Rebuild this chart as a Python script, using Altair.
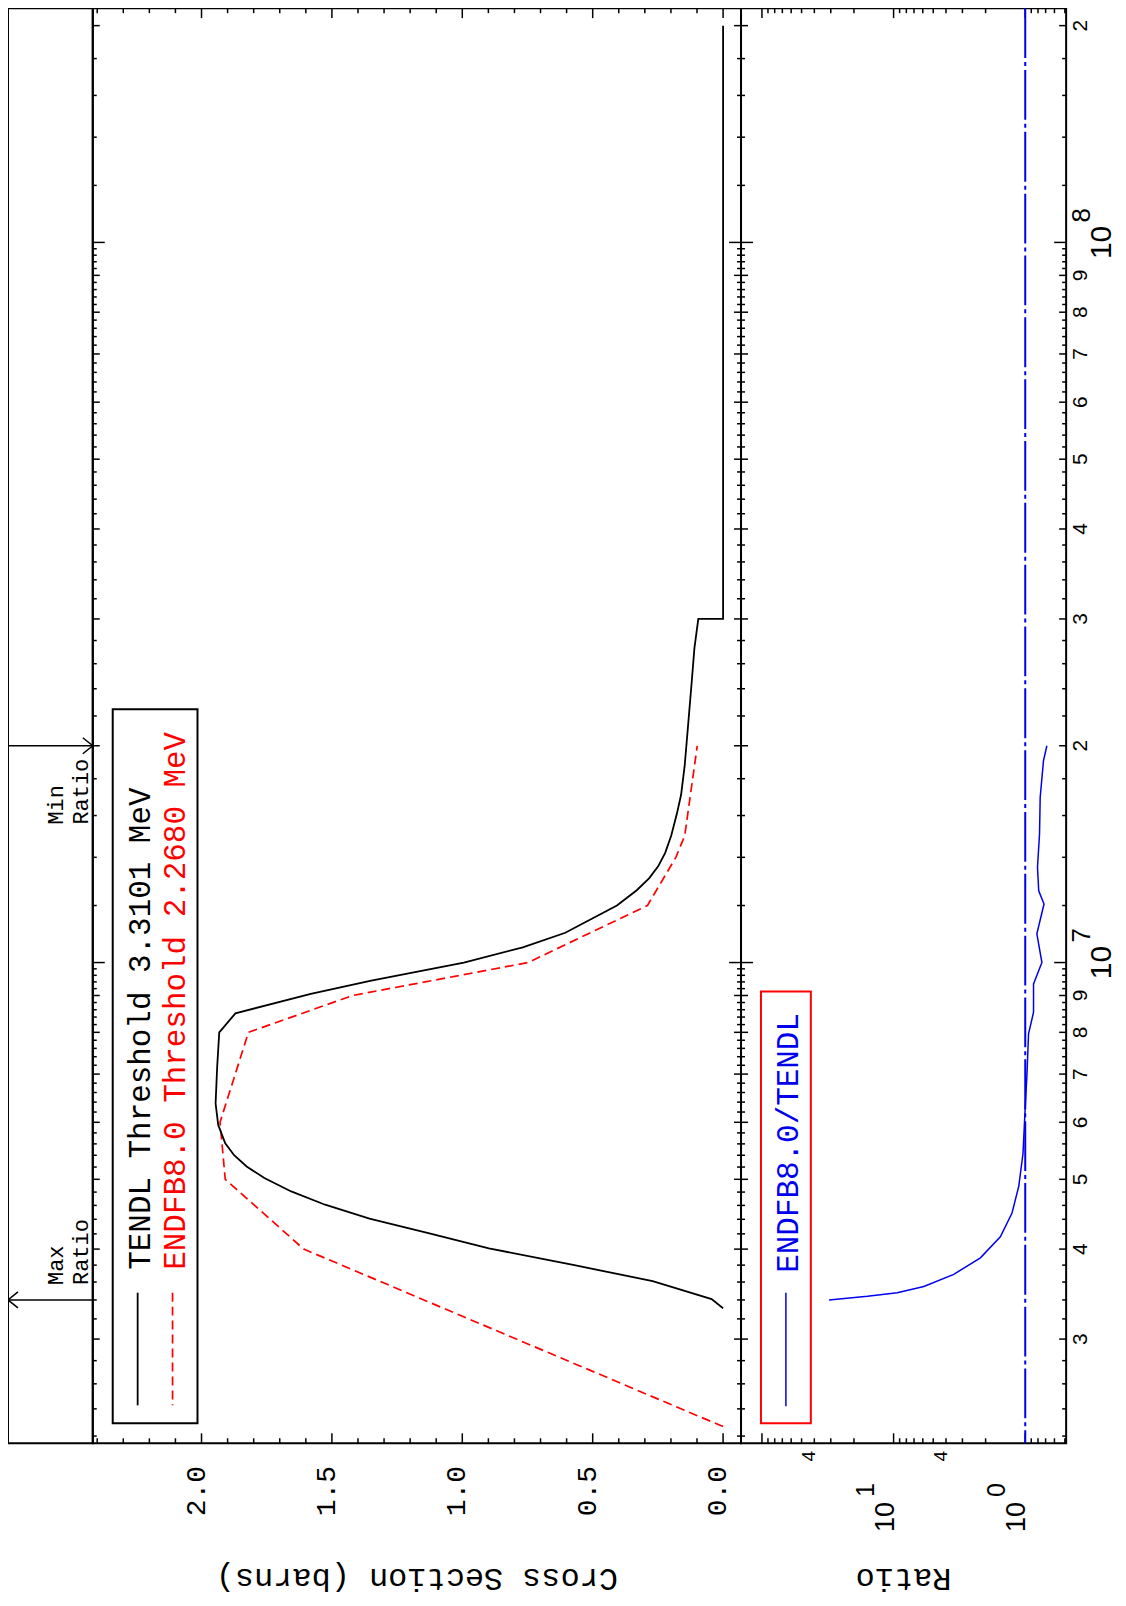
import altair as alt
import pandas as pd

# ---------------- data ----------------
tendl_energy = [3.3101e6, 3.41e6, 3.61e6, 3.80e6, 4.01e6, 4.21e6, 4.41e6, 4.61e6,
                4.81e6, 5.02e6, 5.21e6, 5.40e6, 5.61e6, 5.95e6, 6.37e6, 7.16e6,
                8.0e6, 8.5e6, 9.05e6, 9.44e6, 1.0e7, 1.05e7, 1.10e7, 1.20e7,
                1.26e7, 1.31e7, 1.36e7, 1.42e7, 1.50e7, 1.61e7, 1.71e7, 1.88e7,
                2.16e7, 2.46e7, 2.73e7, 3.0e7, 3.0e7, 2.0e8]
tendl_xs = [0.0, 0.044, 0.27, 0.57, 0.898, 1.13, 1.356, 1.526, 1.656, 1.759, 1.827,
            1.875, 1.909, 1.936, 1.946, 1.940, 1.932, 1.870, 1.581, 1.349, 0.994,
            0.768, 0.605, 0.407, 0.331, 0.283, 0.249, 0.222, 0.199, 0.177, 0.161,
            0.147, 0.133, 0.120, 0.110, 0.095, 0.0, 0.0]

endf_energy = [2.268e6, 4.0e6, 5.0e6, 6.0e6, 8.0e6, 9.0e6, 1.0e7, 1.2e7, 1.4e7, 1.5e7, 2.0e7]
endf_xs = [0.0, 1.608, 1.909, 1.929, 1.820, 1.42, 0.748, 0.290, 0.181, 0.147, 0.099]

ratio_energy = [3.40e6, 3.44e6, 3.48e6, 3.55e6, 3.69e6, 3.89e6, 4.16e6, 4.49e6, 4.89e6,
                5.43e6, 6.3e6, 7.0e6, 7.96e6, 8.53e6, 9.34e6, 1.0e7, 1.096e7, 1.206e7,
                1.258e7, 1.356e7, 1.507e7, 1.695e7, 1.906e7, 2.0e7]
ratio_vals = [30.9, 15.8, 9.38, 5.89, 3.49, 2.19, 1.546, 1.26, 1.12, 1.04, 1.0, 0.97,
              0.944, 0.865, 0.865, 0.747, 0.816, 0.72, 0.79, 0.807, 0.779, 0.77, 0.727, 0.685]

max_ratio_energy = 3.40e6
min_ratio_energy = 2.0e7

# texts
tendl_label = "TENDL Threshold 3.3101 MeV"
endf_label = "ENDFB8.0 Threshold 2.2680 MeV"
ratio_label = "ENDFB8.0/TENDL"
max_text = "Max\nRatio"
min_text = "Min\nRatio"
cs_title = "Cross Section (barns)"
ratio_title = "Ratio"

# tick labels
cs_label_vals = [0.0, 0.5, 1.0, 1.5, 2.0]
cs_label_text = ["0.0", "0.5", "1.0", "1.5", "2.0"]
energy_digit_vals = [3e6, 4e6, 5e6, 6e6, 7e6, 8e6, 9e6,
                     2e7, 3e7, 4e7, 5e7, 6e7, 7e7, 8e7, 9e7, 2e8]
energy_digit_text = ["3", "4", "5", "6", "7", "8", "9",
                     "2", "3", "4", "5", "6", "7", "8", "9", "2"]
energy_decade_vals = [1e7, 1e8]
energy_decade_exp = ["7", "8"]
ratio_decade_vals = [1.0, 10.0]
ratio_decade_exp = ["0", "1"]
ratio_four_vals = [4.0, 40.0]
ratio_four_text = ["4", "4"]

# ---------------- layout ----------------
E_DOMAIN = [2.15e6, 2.115e8]
CS_DOMAIN = [-0.0688, 2.417]
R_DOMAIN = [0.489, 144.2]
H = 1439
W_STRIP, W_MAIN, W_RATIO = 85, 650, 326
MONO = "Liberation Mono"
SANS = "Liberation Sans"
BLUE = "#0000ee"
RED = "#ff0000"

yscale = alt.Scale(type="log", domain=E_DOMAIN, nice=False)
cs_scale = alt.Scale(domain=CS_DOMAIN, reverse=True, nice=False, zero=False)
r_scale = alt.Scale(type="log", domain=R_DOMAIN, reverse=True, nice=False)


def Y(f="e"):
    return alt.Y(f"{f}:Q", scale=yscale, axis=None)


def XC(f):
    return alt.X(f"{f}:Q", scale=cs_scale, axis=None)


def XR(f):
    return alt.X(f"{f}:Q", scale=r_scale, axis=None)


one = pd.DataFrame({"a": [0]})

# tick positions, grouped by tick class
e_minor, e_mid, e_major = [], [], []
for dec in [1e6, 1e7, 1e8]:
    for k in range(5, 50):
        v = dec * k / 5.0
        if E_DOMAIN[0] <= v <= E_DOMAIN[1]:
            if k == 5:
                e_major.append(v)
            elif k % 5 == 0:
                e_mid.append(v)
            else:
                e_minor.append(v)
E_TICK_SETS = [(e_minor, 4), (e_mid, 7), (e_major, 12)]

cs_minor = [round(0.1 * k, 2) for k in range(0, 25) if k % 5 != 0]
cs_major = [round(0.1 * k, 2) for k in range(0, 25) if k % 5 == 0]
CS_TICK_SETS = [(cs_minor, 5), (cs_major, 10)]

r_minor, r_major = [], []
for dec in [0.1, 1.0, 10.0, 100.0]:
    for k in range(1, 10):
        v = dec * k
        if R_DOMAIN[0] <= v <= R_DOMAIN[1]:
            (r_major if k == 1 else r_minor).append(v)
R_TICK_SETS = [(r_minor, 5), (r_major, 10)]

TICK = dict(color="black", strokeWidth=1.5)


def energy_ticks(panel_w):
    layers = []
    for vals, ln in E_TICK_SETS:
        df = pd.DataFrame({"e": vals})
        layers.append(alt.Chart(df).mark_rule(**TICK).encode(
            y=Y(), x=alt.value(0), x2=alt.value(ln)))
        layers.append(alt.Chart(df).mark_rule(**TICK).encode(
            y=Y(), x=alt.value(panel_w - ln), x2=alt.value(panel_w)))
    return layers


def h_ticks(sets, xenc_fn, field):
    layers = []
    for vals, ln in sets:
        df = pd.DataFrame({field: vals})
        layers.append(alt.Chart(df).mark_rule(**TICK).encode(
            x=xenc_fn(field), y=alt.value(0), y2=alt.value(ln)))
        layers.append(alt.Chart(df).mark_rule(**TICK).encode(
            x=xenc_fn(field), y=alt.value(H - ln), y2=alt.value(H)))
    return layers


# ---------------- strip panel (Max / Min ratio arrows) ----------------
arrow_df = pd.DataFrame({"e": [max_ratio_energy, min_ratio_energy]})
strip_layers = [
    alt.Chart(arrow_df).mark_rule(color="black", strokeWidth=1.5).encode(
        y=Y(), x=alt.value(0), x2=alt.value(W_STRIP)),
    alt.Chart(pd.DataFrame({"e": [max_ratio_energy]})).mark_point(
        shape="M1,-0.8L0,0L1,0.8", filled=False, size=400, color="black",
        strokeWidth=1.5, opacity=1).encode(y=Y(), x=alt.value(0)),
    alt.Chart(pd.DataFrame({"e": [min_ratio_energy]})).mark_point(
        shape="M-1,-0.8L0,0L-1,0.8", filled=False, size=400, color="black",
        strokeWidth=1.5, opacity=1).encode(y=Y(), x=alt.value(W_STRIP)),
    alt.Chart(pd.DataFrame({"e": [max_ratio_energy]})).mark_text(
        text=max_text, lineBreak="\n", angle=270, align="left", baseline="alphabetic",
        dx=15, font=MONO, fontSize=22, lineHeight=25, color="black").encode(
        y=Y(), x=alt.value(55)),
    alt.Chart(pd.DataFrame({"e": [min_ratio_energy]})).mark_text(
        text=min_text, lineBreak="\n", angle=270, align="left", baseline="alphabetic",
        dx=-79, font=MONO, fontSize=22, lineHeight=25, color="black").encode(
        y=Y(), x=alt.value(55)),
]
strip = alt.layer(*strip_layers).properties(width=W_STRIP, height=H)

# ---------------- main panel ----------------
tendl_df = pd.DataFrame({"e": tendl_energy, "xs": tendl_xs, "i": list(range(len(tendl_xs)))})
endf_df = pd.DataFrame({"e": endf_energy, "xs": endf_xs, "i": list(range(len(endf_xs)))})
cs_lab_df = pd.DataFrame({"v": cs_label_vals, "t": cs_label_text})

main_layers = energy_ticks(W_MAIN) + h_ticks(CS_TICK_SETS, XC, "v") + [
    alt.Chart(endf_df).mark_line(color=RED, strokeWidth=1.7, strokeDash=[9, 5], clip=True).encode(
        x=XC("xs"), y=Y(), order="i:Q"),
    alt.Chart(tendl_df).mark_line(color="black", strokeWidth=1.8, clip=True).encode(
        x=XC("xs"), y=Y(), order="i:Q"),
    # legend
    alt.Chart(one).mark_rect(fillOpacity=0, stroke="black", strokeWidth=2).encode(
        x=alt.value(20), x2=alt.value(105), y=alt.value(703), y2=alt.value(1419)),
    alt.Chart(one).mark_rule(color="black", strokeWidth=1.8).encode(
        x=alt.value(45), y=alt.value(1288), y2=alt.value(1401)),
    alt.Chart(one).mark_rule(color=RED, strokeWidth=1.7, strokeDash=[9, 5]).encode(
        x=alt.value(80), y=alt.value(1288), y2=alt.value(1401)),
    alt.Chart(one).mark_text(text=tendl_label, angle=270, align="left", baseline="alphabetic",
                             font=MONO, fontSize=31, color="black").encode(
        x=alt.value(57), y=alt.value(1265)),
    alt.Chart(one).mark_text(text=endf_label, angle=270, align="left", baseline="alphabetic",
                             font=MONO, fontSize=31, color=RED).encode(
        x=alt.value(92), y=alt.value(1265)),
    # axis labels
    alt.Chart(cs_lab_df).mark_text(angle=270, align="center", baseline="alphabetic", dy=3,
                                   font=MONO, fontSize=28, color="black").encode(
        x=XC("v"), y=alt.value(1487), text="t:N"),
    alt.Chart(one).mark_text(text=cs_title, angle=180, align="center", baseline="alphabetic",
                             font=MONO, fontSize=32, color="black").encode(
        x=alt.value(W_MAIN / 2), y=alt.value(1565)),
]
main = alt.layer(*main_layers).properties(width=W_MAIN, height=H)

# ---------------- ratio panel ----------------
ratio_df = pd.DataFrame({"e": ratio_energy, "r": ratio_vals, "i": list(range(len(ratio_vals)))})
unity_df = pd.DataFrame({"r": [1.0]})
ed_df = pd.DataFrame({"e": energy_digit_vals, "t": energy_digit_text})
edec_df = pd.DataFrame({"e": energy_decade_vals, "t": energy_decade_exp})
rdec_df = pd.DataFrame({"r": ratio_decade_vals, "t": ratio_decade_exp})
rfour_df = pd.DataFrame({"r": ratio_four_vals, "t": ratio_four_text})

ratio_layers = energy_ticks(W_RATIO) + h_ticks(R_TICK_SETS, XR, "r") + [
    alt.Chart(unity_df).mark_rule(color=BLUE, strokeWidth=2, strokeDash=[50, 4, 4, 4]).encode(
        x=XR("r")),
    alt.Chart(ratio_df).mark_line(color=BLUE, strokeWidth=1.5, clip=True).encode(
        x=XR("r"), y=Y(), order="i:Q"),
    # legend
    alt.Chart(one).mark_rect(fillOpacity=0, stroke=RED, strokeWidth=2).encode(
        x=alt.value(20), x2=alt.value(70), y=alt.value(986), y2=alt.value(1419)),
    alt.Chart(one).mark_rule(color=BLUE, strokeWidth=1.5).encode(
        x=alt.value(45), y=alt.value(1288), y2=alt.value(1402)),
    alt.Chart(one).mark_text(text=ratio_label, angle=270, align="left", baseline="alphabetic",
                             font=MONO, fontSize=31, color=BLUE).encode(
        x=alt.value(57), y=alt.value(1268)),
    # ratio axis labels
    alt.Chart(rdec_df).mark_text(text="10", angle=270, align="center", baseline="alphabetic",
                                 font=SANS, fontSize=27, color="black").encode(
        x=XR("r"), y=alt.value(1513)),
    alt.Chart(rdec_df).mark_text(angle=270, align="left", baseline="alphabetic", dy=-20,
                                 font=SANS, fontSize=25, color="black").encode(
        x=XR("r"), y=alt.value(1493), text="t:N"),
    alt.Chart(rfour_df).mark_text(angle=270, align="center", baseline="alphabetic", dy=1,
                                  font=SANS, fontSize=19, color="black").encode(
        x=XR("r"), y=alt.value(1452), text="t:N"),
    alt.Chart(one).mark_text(text=ratio_title, angle=180, align="center", baseline="alphabetic",
                             font=MONO, fontSize=32, color="black").encode(
        x=alt.value(W_RATIO / 2), y=alt.value(1565)),
    # energy axis labels (right side)
    alt.Chart(ed_df).mark_text(angle=270, align="center", baseline="alphabetic",
                               font=SANS, fontSize=21, color="black").encode(
        y=Y(), x=alt.value(347), text="t:N"),
    alt.Chart(edec_df).mark_text(text="10", angle=270, align="center", baseline="alphabetic",
                                 font=SANS, fontSize=30, color="black").encode(
        y=Y(), x=alt.value(371)),
    alt.Chart(edec_df).mark_text(angle=270, align="left", baseline="alphabetic", dx=20,
                                 font=SANS, fontSize=26, color="black").encode(
        y=Y(), x=alt.value(350), text="t:N"),
]
ratio = alt.layer(*ratio_layers).properties(width=W_RATIO, height=H)

chart = alt.hconcat(strip, main, ratio, spacing=0, bounds="flush").properties(
    padding={"left": -4, "top": -4, "right": 0, "bottom": 0}, background="white"
).configure_view(stroke="black", strokeWidth=2)

chart.save("out.html", embed_options={"renderer": "svg", "actions": False})
